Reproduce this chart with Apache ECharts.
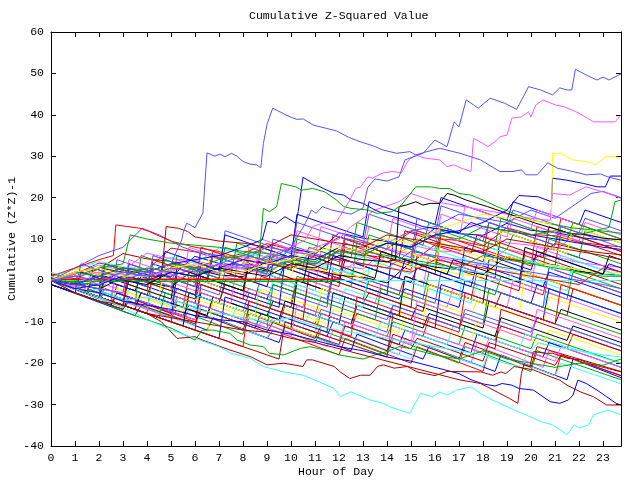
<!DOCTYPE html>
<html><head><meta charset="utf-8">
<script src="https://cdn.jsdelivr.net/npm/echarts@6/dist/echarts.min.js"></script>
<style>html,body{margin:0;padding:0;background:#fff}#c{width:640px;height:480px}</style>
</head><body><div id="c"></div>
<script>
const TITLE = 'Cumulative Z-Squared Value';
const X_NAME = 'Hour of Day';
const Y_NAME = 'Cumulative (Z*Z)-1';
const HOURS = [0,1,2,3,4,5,6,7,8,9,10,11,12,13,14,15,16,17,18,19,20,21,22,23,23.75];
const COL = {red:'#ff0000', green:'#00a800', blue:'#0000ff', magenta:'#ff55ff', cyan:'#33ffff',
             darkred:'#b00000', yellow:'#ffff00', black:'#000000', lblue:'#5555ff'};

// hourly bulk lines
const bulkHourly = [
 [0,1.5,4.2,3.1,2.5,7.8,6.9,5.2,6.5,8.9,7.4,6.8,10.5,9.1,7.6,11.8,10.2,9.6,8.3,12.7,11.1,10.8,9.2,8.5,8.1],
 [0.5,-0.8,-1.2,2.6,1.4,0.9,5.8,4.1,3.6,2.2,7.9,6.3,11.5,10.2,9.4,8.1,12.6,11.3,10.9,13.8,12.1,11.6,10.4,9.7,9.9],
 [0,-1.3,1.8,0.6,-0.2,3.9,2.4,1.8,5.7,4.1,3.6,2.2,1.5,5.8,4.3,8.6,7.2,6.8,10.7,9.1,8.5,7.3,11.6,10.2,9.8],
 [1.6,0.4,2.8,6.5,5.2,4.6,3.1,2.7,1.4,5.9,4.2,3.8,7.4,6.1,5.5,4.2,8.6,7.3,6.8,5.1,4.6,8.9,7.4,6.6,6.2],
 [0,-0.8,-2.1,0.7,-0.4,-1.6,2.8,1.3,0.9,4.7,3.3,2.6,1.2,0.8,-0.6,4.5,3.2,2.6,1.4,5.8,4.3,3.7,2.2,1.5,1.2],
 [0.8,2.7,4.6,3.2,2.8,5.6,4.1,7.8,6.3,5.7,4.4,3.8,2.2,1.7,5.9,4.4,3.6,2.5,1.8,0.6,4.8,3.4,2.7,1.4,1.1],
 [0,1.6,3.7,2.4,6.6,5.2,4.8,3.3,2.7,1.4,5.8,4.3,3.6,2.8,7.7,6.3,5.8,4.4,3.5,7.6,6.2,5.7,4.3,3.6,3.2],
 [0,2.8,1.6,0.8,-0.3,3.7,2.4,6.6,5.2,4.7,3.3,2.7,1.6,0.8,4.7,3.4,2.8,1.5,0.9,5.8,4.4,3.6,2.5,1.8,1.9]
];
const bulkHourlyColors = ['red','blue','magenta','darkred','black','cyan','magenta','yellow'];

// sawtooth bulk lines: [hour, value]
const sawUpper = [
 [[0,0],[1.5,-3],[1.75,2],[4,-2.5],[4.25,5],[6.5,0.5],[6.75,7],[9,2.5],[9.25,9],[12,3.5],[12.25,10],[15,4.5],[15.25,12],[18,6.5],[18.25,14],[21,8.5],[21.25,15],[23.75,10]],
 [[0,1],[2,-3],[2.25,3],[5,-2.5],[5.25,6],[7.5,1.5],[7.75,9],[10.5,3.5],[10.75,8],[13,3.5],[13.25,11],[16,5.5],[16.25,13],[19,7.5],[19.25,11],[22,5.5],[22.25,12],[23.75,9]],
 [[0,-1],[1,-3],[1.25,2],[3.5,-2.5],[3.75,1],[6,-3.5],[6.25,4],[9,-1.5],[9.25,4],[11.5,-0.5],[11.75,6],[14.5,0.5],[14.75,5],[17,0.5],[17.25,8],[20,2.5],[20.25,7],[23,1.5],[23.25,4],[23.75,3]],
 [[0,0],[2.5,-4],[2.75,3],[5,-1.5],[5.25,5],[8,-0.5],[8.25,8],[10,4.5],[10.25,12],[13,6.5],[13.25,13],[16,7.5],[16.25,16],[19,10.5],[19.25,15],[22,9.5],[22.25,14],[23.75,11]],
 [[0,2],[1.5,-1],[1.75,4],[4,-0.5],[4.25,6],[7,0.5],[7.25,5],[9.5,0.5],[9.75,7],[12.5,1.5],[12.75,6],[15,1.5],[15.25,9],[18,3.5],[18.25,8],[21,2.5],[21.25,6],[23.75,1]],
 [[0,0],[3,-6],[3.25,1],[6,-4.5],[6.25,4],[8.5,-0.5],[8.75,8],[11.5,2.5],[11.75,11],[14.5,5.5],[14.75,12],[17.5,6.5],[17.75,11],[20.5,5.5],[20.75,13],[23.75,7]],
 [[0,1],[1.5,-2],[1.75,2],[4.5,-3.5],[4.75,3],[7,-1.5],[7.25,6],[10,0.5],[10.25,7],[13,1.5],[13.25,10],[16,4.5],[16.25,9],[18.5,4.5],[18.75,12],[21.5,6.5],[21.75,13],[23.75,9]],
 [[0,0],[2,-4],[2.25,1],[5,-4.5],[5.25,3],[8,-2.5],[8.25,4],[10.5,-0.5],[10.75,6],[13.5,0.5],[13.75,7],[16.5,1.5],[16.75,5],[19.5,-0.5],[19.75,8],[23,1.5],[23.25,6],[23.75,5]],
 [[0,0],[1,-2],[1.25,4],[4,-1.5],[4.25,6],[7,0.5],[7.25,12],[10,6.5],[10.25,14],[13,8.5],[13.25,16],[16,10.5],[16.25,18],[19,12.5],[19.25,17],[22,11.5],[22.25,15],[23.75,12]],
 [[0,0],[2,-2],[2.25,4],[4.5,-0.5],[4.75,7],[7,2.5],[7.25,11],[10,5.5],[10.25,16],[13,10.5],[13.25,19],[16,13.5],[16.25,20],[19,14.5],[19.25,19],[22,13.5],[22.25,17],[23.75,14]],
 [[0,0],[3,-3],[3.25,5],[5.5,0.5],[5.75,8],[8.5,2.5],[8.75,10],[11,5.5],[11.25,13],[14,7.5],[14.25,15],[17,9.5],[17.25,18],[20,12.5],[20.25,17],[23.75,10]],
 [[0,0],[2,-1],[2.25,4],[4.5,-0.5],[4.75,5],[7,0.5],[7.25,8],[10,2.5],[10.25,10],[12.5,5.5],[12.75,14],[15.5,8.5],[15.75,14],[18.5,8.5],[18.75,15],[21.5,9.5],[21.75,14],[23.75,10]],
 [[0,0],[3,-3],[3.25,4],[6,-1.5],[6.25,7],[9,1.5],[9.25,10],[12,4.5],[12.25,11],[15,5.5],[15.25,15],[18,9.5],[18.25,14],[21,8.5],[21.25,13],[23.75,8]]
];
const sawUpperColors = ['red','green','blue','magenta','cyan','darkred','yellow','black','lblue','blue','magenta','green','lblue'];

const sawMiddle = [
 [[0,-1],[2.5,-6],[2.75,-1],[5.5,-6.5],[5.75,1],[8.5,-4.5],[8.75,1],[11.5,-4.5],[11.75,2],[14.5,-3.5],[14.75,1],[17.5,-4.5],[17.75,2],[20.5,-3.5],[20.75,3],[23.75,-3]],
 [[0,0],[1.5,-3],[1.75,1],[4.5,-4.5],[4.75,-1],[7,-5.5],[7.25,0],[10,-5.5],[10.25,1],[13,-4.5],[13.25,0],[15.5,-4.5],[15.75,2],[18.5,-3.5],[18.75,1],[21.5,-4.5],[21.75,2],[23.75,-2]],
 [[0,1],[3,-5],[3.25,0],[6,-5.5],[6.25,1],[9,-4.5],[9.25,-1],[11.5,-5.5],[11.75,1],[14.5,-4.5],[14.75,-2],[17,-6.5],[17.25,0],[20,-5.5],[20.25,-1],[23.75,-8]],
 [[0,0],[2,-4],[2.25,-1],[5,-6.5],[5.25,1],[8,-4.5],[8.25,-2],[10.5,-6.5],[10.75,0],[13.5,-5.5],[13.75,-1],[16.5,-6.5],[16.75,-2],[19,-6.5],[19.25,0],[23.75,-9]],
 [[0,-1],[3,-7],[3.25,-2],[6,-7.5],[6.25,-1],[9,-6.5],[9.25,0],[12,-5.5],[12.25,-2],[14.5,-6.5],[14.75,0],[17.5,-5.5],[17.75,-1],[20.5,-6.5],[20.75,-2],[23.75,-8]],
 [[0,0],[1,-2],[1.25,2],[4,-3.5],[4.25,0],[7,-5.5],[7.25,-1],[10,-6.5],[10.25,0],[13,-5.5],[13.25,-3],[15.5,-7.5],[15.75,-1],[18.5,-6.5],[18.75,-3],[21.5,-8.5],[21.75,-2],[23.75,-6]],
 [[0,0],[2.5,-5],[2.75,-2],[5.5,-7.5],[5.75,-3],[8.5,-8.5],[8.75,-2],[11.5,-7.5],[11.75,-4],[14.5,-9.5],[14.75,-3],[17.5,-8.5],[17.75,-5],[20.5,-10.5],[20.75,-4],[23.75,-10]],
 [[0,-1],[3,-7],[3.25,-4],[6,-9.5],[6.25,-3],[9,-8.5],[9.25,-5],[12,-10.5],[12.25,-4],[15,-9.5],[15.25,-6],[18,-11.5],[18.25,-5],[21,-10.5],[21.25,-7],[23.75,-12]],
 [[0,0],[2,-4],[2.25,-2],[5,-7.5],[5.25,-4],[8,-9.5],[8.25,-5],[11,-10.5],[11.25,-7],[14,-12.5],[14.25,-6],[17,-11.5],[17.25,-8],[20,-13.5],[20.25,-9],[23.75,-16]],
 [[0,1],[3.5,-6],[3.75,-3],[6.5,-8.5],[6.75,-5],[9.5,-10.5],[9.75,-6],[12.5,-11.5],[12.75,-8],[15.5,-13.5],[15.75,-9],[18.5,-14.5],[18.75,-11],[21.5,-16.5],[21.75,-13],[23.75,-17]],
 [[0,0],[2,-4],[2.25,-3],[5,-8.5],[5.25,-5],[8,-10.5],[8.25,-7],[11,-12.5],[11.25,-8],[14,-13.5],[14.25,-10],[17,-15.5],[17.25,-11],[20,-16.5],[20.25,-13],[23.75,-20]],
 [[0,-1],[2.5,-6],[2.75,-3],[5.5,-8.5],[5.75,-6],[8.5,-11.5],[8.75,-8],[11.5,-13.5],[11.75,-10],[14.5,-15.5],[14.75,-12],[17.5,-17.5],[17.75,-13],[20.5,-18.5],[20.75,-15],[23.75,-21]],
 [[0,0],[3,-6],[3.25,-4],[6,-9.5],[6.25,-6],[9,-11.5],[9.25,-9],[12,-14.5],[12.25,-10],[15,-15.5],[15.25,-12],[18,-17.5],[18.25,-14],[21,-19.5],[21.25,-16],[23.75,-21]],
 [[0,0],[1.5,-3],[1.75,-2],[4.5,-7.5],[4.75,-4],[7.5,-9.5],[7.75,-6],[10.5,-11.5],[10.75,-8],[13.5,-13.5],[13.75,-10],[16.5,-15.5],[16.75,-11],[19.5,-16.5],[19.75,-13],[23.75,-20]],
 [[0,-1],[3,-7],[3.25,-5],[6,-10.5],[6.25,-7],[9,-12.5],[9.25,-10],[12,-15.5],[12.25,-11],[15,-16.5],[15.25,-14],[18,-19.5],[18.25,-15],[21,-20.5],[21.25,-18],[23.75,-23]],
 [[0,0],[2.5,-5],[2.75,-2],[5.5,-7.5],[5.75,-4],[8.5,-9.5],[8.75,-5],[11.5,-10.5],[11.75,-7],[14.5,-12.5],[14.75,-9],[17.5,-14.5],[17.75,-10],[20.5,-15.5],[20.75,-12],[23.75,-18]],
 [[0,0],[3.5,-7],[3.75,-3],[6.5,-8.5],[6.75,-4],[9.5,-9.5],[9.75,-5],[12.5,-10.5],[12.75,-6],[15.5,-11.5],[15.75,-8],[18.5,-13.5],[18.75,-9],[21.5,-14.5],[21.75,-11],[23.75,-15]],
 [[0,0],[2,-4],[2.25,0],[5,-5.5],[5.25,-2],[8,-7.5],[8.25,-3],[11,-8.5],[11.25,-4],[14,-9.5],[14.25,-6],[17,-11.5],[17.25,-7],[20,-12.5],[20.25,-9],[23.75,-16]]
];
const sawMiddleColors = ['red','green','blue','magenta','cyan','darkred','yellow','black','lblue','red','green','blue','magenta','cyan','darkred','yellow','black','lblue'];

const sawJumpy = [
 [[0,0],[4,-8],[4.25,3],[8,-4.5],[8.25,6],[12,-1.5],[12.25,9],[16,1.5],[16.25,11],[20,3.5],[20.25,13],[23.75,6]],
 [[0,0],[5,-10],[5.25,2],[9.5,-6.5],[9.75,5],[14,-3.5],[14.25,9],[18.5,0.5],[18.75,12],[23.75,2]],
 [[0,1],[3.5,-6],[3.75,6],[8,-2.5],[8.25,7],[12.5,-1.5],[12.75,9],[16,2.5],[16.25,12],[20.5,3.5],[20.75,10],[23.75,4]],
 [[0,0],[6,-12],[6.25,-1],[10.5,-9.5],[10.75,2],[15,-6.5],[15.25,6],[19.5,-2.5],[19.75,7],[23.75,-1]],
 [[0,0],[3,-6],[3.25,3],[7.5,-5.5],[7.75,4],[11,-2.5],[11.25,7],[15.5,-1.5],[15.75,6],[20,-2.5],[20.25,8],[23.75,1]],
 [[0,0],[5.5,-11],[5.75,-3],[10,-11.5],[10.25,0],[14.5,-8.5],[14.75,1],[18,-5.5],[18.25,5],[23.75,-6]],
 [[0,1],[4,-7],[4.25,0],[8.5,-8.5],[8.75,2],[13,-6.5],[13.25,3],[17,-4.5],[17.25,6],[21.5,-2.5],[21.75,5],[23.75,1]],
 [[0,0],[6.5,-13],[6.75,-5],[11,-13.5],[11.25,-2],[15.5,-10.5],[15.75,-1],[19.5,-8.5],[19.75,2],[23.75,-6]],
 [[0,0],[7,-14],[7.25,-4],[11.5,-12.5],[11.75,-3],[16,-11.5],[16.25,-1],[20.5,-9.5],[20.75,-2],[23.75,-8]],
 [[0,0],[8,-16],[8.25,-5],[12.5,-13.5],[12.75,-4],[17,-12.5],[17.25,-3],[21,-10.5],[21.25,-1],[23.75,-6]],
 [[0,0],[4.5,-9],[4.75,-3],[9,-11.5],[9.25,-1],[13.5,-9.5],[13.75,-2],[18,-10.5],[18.25,-2],[23.75,-13]],
 [[0,0],[2.5,-5],[2.75,5],[7,-3.5],[7.25,2],[11.5,-6.5],[11.75,3],[16,-5.5],[16.25,2],[20.5,-6.5],[20.75,3],[23.75,-3]],
 [[0,0],[9.5,-19],[9.75,-10],[14,-18.5],[14.25,-8],[18.5,-16.5],[18.75,-7],[23.75,-17]],
 [[0,1],[5,-9],[5.25,-4],[10,-13.5],[10.25,-6],[15,-15.5],[15.25,-5],[20,-14.5],[20.25,-7],[23.75,-14]],
 [[0,0],[3,-6],[3.25,4],[6,-1.5],[6.25,8],[9,2.5],[9.25,6],[12,0.5],[12.25,8],[15,2.5],[15.25,10],[18,4.5],[18.25,9],[21,3.5],[21.25,12],[23.75,7]],
 [[0,0],[1.5,-3],[1.75,3],[4,-1.5],[4.25,4],[6.5,-0.5],[6.75,6],[9.5,0.5],[9.75,4],[12,-0.5],[12.25,5],[15,-0.5],[15.25,3],[17.5,-1.5],[17.75,4],[20.5,-1.5],[20.75,2],[23.75,-4]]
];
const sawJumpyColors = ['red','blue','green','darkred','magenta','black','cyan','yellow','blue','red','green','lblue','darkred','magenta','red','blue'];

const sawLower = [
 [[0,0],[3,-6.5],[3.25,-4],[6,-10],[6.25,-8],[9,-14],[9.25,-12],[12,-18],[12.25,-14],[15,-20],[15.25,-16],[18,-22],[18.25,-17],[21,-23],[21.25,-18],[23.75,-23]],
 [[0,0],[2,-4.5],[2.25,-3],[5,-9],[5.25,-7],[8,-13],[8.25,-9],[11,-15],[11.25,-12],[14,-18],[14.25,-14],[17,-20],[17.25,-16],[20,-22],[20.25,-17],[23.75,-24]],
 [[0,-1],[3.5,-8.5],[3.75,-6],[6.5,-12],[6.75,-9],[9.5,-15],[9.75,-11],[12.5,-17],[12.75,-13],[15.5,-19],[15.75,-16],[18.5,-22],[18.75,-18],[21.5,-24],[21.75,-19],[23.75,-23.5]],
 [[0,0],[2.5,-5.5],[2.75,-4],[5.5,-10],[5.75,-7],[8.5,-13],[8.75,-10],[11.5,-16],[11.75,-12],[14.5,-18],[14.75,-14],[17.5,-20],[17.75,-15],[20.5,-21],[20.75,-17],[23.75,-23]],
 [[0,0],[3,-6.5],[3.25,-5],[6,-11],[6.25,-8],[9,-14],[9.25,-10],[12,-16],[12.25,-13],[15,-19],[15.25,-15],[18,-21],[18.25,-17],[21,-23],[21.25,-20],[23.75,-25]],
 [[0,0],[2,-4],[2.25,-2],[5,-8],[5.25,-6],[8,-12],[8.25,-8],[11,-14],[11.25,-11],[14,-17],[14.25,-13],[17,-19],[17.25,-15],[20,-21],[20.25,-16],[23.75,-22]]
];
const sawLowerColors = ['red','green','blue','magenta','cyan','darkred'];

// flat lines at zero
const zeroLeft = [0,0,0,0,0,0,0,0,0,0,0,0,0];
const zeroRight = [0,0,0,0,0,0,0,0,0,0,0,0,0];

// traced prominent lines: [hour, value]
const L1 = [[0,0],[1,-1],[2,1],[3,0],[4,2],[5,4],[5.45,9.8],[5.5,11.4],[5.65,13.8],[5.8,13.4],[6,12.7],[6.24,15.3],[6.33,16.3],[6.5,30.8],[6.83,30.0],[7.04,30.5],[7.25,29.9],[7.53,30.7],[7.74,30.0],[8.01,28.7],[8.29,28.1],[8.57,27.9],[8.74,27.2],[8.85,33.1],[9.01,37.9],[9.24,41.6],[9.54,40.7],[9.96,39.5],[10.24,38.9],[10.51,39.0],[10.93,37.5],[11.49,36.7],[11.9,36.1],[12.39,34.6],[12.88,33.5],[13.42,32.5],[13.83,31.5],[14.4,30.7],[14.95,31.1],[15.2,30.3],[15.6,31.0],[16.2,31.9],[17.04,30.7],[17.9,29.1],[18.7,26.3],[19.25,26.3],[19.6,26.7],[19.8,25.5],[20.25,25.5],[20.7,28.4],[21.1,27.1],[21.75,26.3],[22.3,25.5],[22.9,25.7],[23.2,25.0],[23.75,24.2]];
const L2 = [[0,0],[1,1],[2,0],[3,2],[4,1],[5,3],[6,2],[7,4],[8,6],[9,5],[10,8],[10.6,13.8],[10.85,17],[11.05,16.2],[11.3,17.8],[11.7,17],[12,16.6],[12.5,16],[13,17.5],[13.2,22.5],[13.5,24.5],[14,24],[14.5,25],[14.75,29.1],[15.5,30.7],[16,33.9],[16.5,32.3],[16.8,38.3],[17,37.1],[17.3,43.6],[17.8,41.6],[18.3,44],[18.9,42.8],[19.4,41.3],[19.9,46.8],[20.4,46],[20.9,44.8],[21.2,46.5],[21.5,46],[21.7,46],[21.85,51],[22.3,49.6],[22.75,48.4],[23,49.1],[23.25,48.4],[23.75,49.9]];
const L3 = [[0,0],[1,1],[2,-1],[3,2],[4,1],[5,3],[6,2],[7,4],[8,3],[9,6],[10,8],[10.6,9.8],[10.9,13],[11.3,13.8],[11.9,14.2],[12.45,19.4],[12.7,22.2],[12.9,22.6],[13.2,25],[13.4,24.7],[13.8,25.9],[14.2,26.3],[14.6,26],[14.9,29.1],[15.2,30.3],[15.6,29.5],[16.2,29.1],[16.5,27.5],[16.8,27.9],[17.1,27.1],[17.5,26.3],[17.6,34.3],[18,33.1],[18.2,32.3],[18.5,33.5],[18.7,34.7],[19,35.1],[19.2,39.2],[19.6,39.5],[19.9,40.7],[20,39.5],[20.2,42.4],[20.5,43.6],[21,42.4],[21.4,41.9],[22,40.4],[22.6,38.3],[23,38.3],[23.5,38.3],[23.75,39.9]];
const L5 = [[0,0],[1,2],[2,3],[3,1],[4,1],[5,3],[6,4],[7,2],[8,2],[9,4],[10,5],[11,7],[12,8],[13,7],[14,10],[15,9],[16,12],[17,14],[18,16],[19,15],[19.5,15.5],[20,14.5],[20.5,14],[20.85,13.8],[20.9,30.7],[21.25,30.7],[21.75,29.1],[22.3,28.7],[22.7,27.9],[23.1,29.9],[23.5,29.9],[23.75,29.5]];
const L6 = [[0,0],[1,-2],[2,-1],[3,1],[4,0],[5,2],[6,1],[7,3],[8,5],[9,4],[10,6],[11,5],[12,8],[13,7],[14,9],[15,8],[16,11],[17,12],[18,14],[19,17],[19.5,20.5],[20.3,20.2],[20.85,19],[20.9,24.7],[21.5,24.2],[22.2,23.4],[22.75,22.6],[23.1,22.6],[23.3,25.2],[23.75,25.2]];
const L7 = [[0,0],[1,1],[2,-1],[3,1],[4,3],[5,2],[6,1],[7,4],[8,3],[9,2],[10,5],[11,4],[12,7],[13,6],[14,9],[15,8],[16,11],[17,10],[18,13],[19,12],[20,11],[21,12],[22,11],[23,12.5],[23.25,12.8],[23.5,19],[23.75,19.4]];
const L8 = [[0,0],[1,2],[2,1],[3,3],[4,2],[5,4],[6,3],[7,5],[8,6],[8.7,7.3],[8.85,17.4],[9.1,16.6],[9.4,17.8],[9.6,23.4],[10.2,22.6],[10.45,21.8],[10.9,22.2],[11.4,21.4],[11.9,19.4],[12.2,17.8],[12.5,17.4],[13.2,17],[13.6,16.2],[14.2,16.6],[14.6,18.2],[15.2,22.6],[15.8,22.6],[16.2,22.2],[16.6,22.2],[17,21],[17.5,20.6],[18,19.4],[18.6,17.8],[19.1,16.6],[19.6,15.4],[20,14.6],[20.7,13.8],[21.8,12.6],[22.6,12.2],[23.75,11.4]];
const L10 = [[0,0],[1,-1],[2,1],[3,3],[4,2],[5,4],[6,5],[7,6],[8,8],[8.8,9.8],[9.0,14.2],[9.2,14.2],[9.4,13.8],[9.75,15.4],[10.2,13.8],[10.3,16.6],[10.5,24.9],[10.95,23.4],[11.35,22.2],[11.8,21],[12.2,20.6],[12.5,19.4],[13,18.6],[13.5,17],[14,15.8],[14.5,15],[15,14],[15.5,13],[16,12.5],[17,11.5],[17.5,14],[18,13],[19,12],[20,11],[21,10],[22,9],[23,8],[23.75,7.5]];
const L12 = [[0,0],[1,-1],[2,1],[3,0],[4,-1],[5,2],[6,1],[7,3],[8,2],[9,1],[10,4],[11,3],[12,6],[13,5],[14,4.5],[14.35,5],[14.5,17.8],[14.8,18.2],[15.2,19],[15.5,18.2],[15.8,18.6],[16.2,18.6],[16.5,21],[16.8,20.6],[17.3,19.4],[18.2,17.8],[18.8,16.6],[19.6,15],[20.2,13.8],[20.9,12.6],[21.6,11.4],[22.3,11],[23,10.2],[23.75,9.8]];
const L13 = [[0,0],[1,-2],[2,-4],[3,-6.5],[4,-9.5],[5,-12],[6,-14],[7,-16],[7.5,-17.6],[8.3,-18.8],[8.85,-20.8],[9.1,-21.2],[9.7,-22.1],[10.5,-22.9],[11,-24.1],[11.8,-26.1],[12.05,-28.1],[12.5,-26.9],[13.3,-28.9],[13.85,-29.7],[14.1,-30.5],[14.5,-31.3],[14.95,-32.1],[15.4,-27.3],[15.9,-28.1],[16.2,-26.9],[16.5,-27.7],[16.9,-26.5],[17.5,-25.7],[17.9,-27.3],[18.4,-28.9],[19.3,-31.3],[19.8,-32.5],[20.4,-34.1],[20.9,-34.9],[21.5,-37.3],[21.8,-34.9],[22.0,-35.7],[22.4,-34.9],[22.6,-32.5],[23.2,-31.3],[23.75,-32.5]];
const L14 = [[0,0],[1,-2],[2,-4],[3,-6],[4,-8],[4.6,-10],[5.25,-14],[6,-13.6],[6.3,-14.4],[7.45,-16.8],[8.3,-18.4],[9,-20.4],[9.7,-20],[10.5,-20.8],[10.65,-19.2],[10.9,-19.2],[11.8,-20.8],[12.05,-22.1],[12.45,-23.7],[12.9,-22.9],[13.3,-22.9],[13.6,-20.8],[13.85,-20.4],[14.3,-21.2],[14.85,-20.8],[15.25,-22.1],[16,-23],[16.5,-22],[17.9,-22.1],[18.4,-22.9],[18.75,-22.1],[18.95,-22.5],[19.3,-20.8],[20.1,-21.6],[20.65,-22.9],[21.2,-24.1],[21.5,-25.3],[22.05,-26.9],[22.6,-28.1],[23.15,-30.1],[23.75,-30.1]];
const L15 = [[0,0],[1,-3],[2,-5],[3,-6],[4,-8],[5,-9],[6,-10],[7,-11],[8,-12],[9,-12.5],[10,-14],[11,-15],[12,-16.5],[13,-18],[14,-19.5],[15,-21],[16,-22.5],[17,-24],[17.9,-24.9],[18.3,-26.1],[18.7,-27.3],[19.1,-28.5],[19.45,-29.7],[19.6,-22.5],[19.7,-20.4],[19.95,-20.8],[20.1,-17.2],[20.65,-17.6],[20.9,-17.6],[21.5,-18.8],[22.05,-19.2],[22.6,-20.4],[23.15,-21.2],[23.75,-22.1]];
const L16 = [[0,0],[1,-2],[2,-3],[3,-5],[4,-6],[5,-7],[6,-8.5],[7,-9.5],[8,-10],[9,-12],[10,-13],[11,-14.5],[12,-16],[13,-17],[14,-18.5],[15,-19.5],[16,-21],[17,-22.5],[17.5,-24],[18,-25],[18.5,-25.5],[18.8,-24.9],[19.2,-25.3],[19.5,-26.1],[20.1,-26.5],[20.4,-27.7],[20.8,-29.3],[21.2,-29.7],[21.55,-28.9],[21.75,-27.7],[21.95,-24.1],[22.3,-24.9],[22.75,-26.5],[23.15,-28.1],[23.55,-29.7],[23.75,-30.1]];
const L17 = [[0,0],[1,-3],[2,-5],[3,-7.5],[4,-9.5],[5,-11.5],[6,-14.4],[6.3,-12],[6.75,-12],[7.45,-12.8],[7.75,-14.4],[8.3,-15.6],[8.85,-16],[9.1,-17.6],[9.7,-18],[10.4,-16.4],[10.8,-16],[11.5,-17],[12,-18],[12.5,-18.5],[13,-19],[13.5,-18],[14,-17.2],[14.5,-16],[15,-16.5],[16,-18],[17,-19],[18,-17],[19,-19],[20,-20],[21,-21],[22,-20],[23,-20.5],[23.75,-19]];
const L19 = [[0,0],[2,2],[4,1],[6,4],[8,3],[10,6],[11,8],[12,10],[12.5,13],[13,15],[13.5,17],[14,18],[14.5,19],[15,21],[15.5,20],[16,19],[17,18],[18,17],[19,16],[20,15],[20.8,14.5],[20.9,21],[21.6,20.6],[22.3,22.6],[23.2,21],[23.75,19.8]];
const L20 = [[0,0],[1,-1],[2,1],[3,0],[4,2],[5,1],[6,3],[7,2],[8,4],[9,3],[10,5],[11,4],[12,7],[13,6],[14,9],[15,12],[16,13],[17,16],[18,15],[19,14],[20,17],[20.5,16],[21,15],[21.5,17],[22,19],[22.5,21],[23,21.5],[23.75,20]];
const L21 = [[0,0],[1,3],[2,6],[3,8],[3.8,12.6],[4.5,11],[5,9.5],[5.5,8],[6,7],[7,6],[8,5],[9,8],[10,7],[11,6],[12,5],[13,4],[14,3],[15,7],[16,6],[17,5],[18,4],[19,3],[20,2],[21,1],[22,0],[23,-1],[23.75,-2]];
const L22 = [[0,1],[1,3],[2,5],[2.6,6],[2.7,13.4],[3.2,13],[3.7,12.6],[4.1,11.8],[4.4,11],[5,9.5],[6,8],[7,7],[8,5],[9,4],[10,3],[11,6],[12,5],[13,4],[14,3],[15,2],[16,5],[17,4],[18,3],[19,2],[20,1],[21,0],[22,-1],[23,3],[23.75,2]];
const L23 = [[0,0],[1,2],[2,3],[3,2],[4,1],[4.6,1],[4.8,13],[5.3,12.6],[5.7,11.8],[6,10.5],[7,9.5],[8,9],[9,8],[10,11],[11,10],[12,9],[13,8],[14,11],[15,10],[16,9],[17,8],[18,7],[19,10],[20,9],[21,8],[22,7],[23,6],[23.75,5]];
const L24 = [[0,0],[1,1],[2,3],[3,4],[3.3,11],[4,10],[5,9],[6,8.5],[7,8],[8,7],[9,6.5],[10,5.5],[11,4.5],[12,8],[13,7],[14,6],[15,5],[16,4],[17,3],[18,6],[19,5],[20,4],[21,3],[22,2],[23,1],[23.75,1]];
const L25 = [[0,0],[1,-2],[2,-3],[3,-5],[4,-4],[5,-6],[6,-7],[7,-8],[8,-9],[9,-10],[10,-9],[11,-11],[12,-12],[13,-13],[14,-14],[15,-15],[16,-16],[17,-17],[18,-18],[18.9,-20],[19.5,-20.8],[19.9,-17.6],[20.3,-15.1],[21,-16],[22,-17],[23,-18],[23.75,-18.5]];

const traced = [
 [L21,'lblue'],[L22,'red'],[L23,'darkred'],[L24,'green'],[L25,'cyan'],
 [L17,'green'],[L16,'blue'],[L15,'darkred'],[L14,'darkred'],[L13,'cyan'],
 [L20,'lblue'],[L19,'magenta'],[L12,'black'],[L10,'blue'],[L8,'green'],
 [L7,'green'],[L6,'blue'],[L5,'yellow'],[L3,'magenta'],[L2,'lblue'],[L1,'lblue']
];

const series = [];
function add(data, color, width) {
  series.push({type:'line', data, showSymbol:false, symbol:'none', silent:true, animation:false,
    lineStyle:{width: width || 1, color}, itemStyle:{color}});
}
sawLower.forEach((d,i)=>add(d, COL[sawLowerColors[i]]));
sawMiddle.forEach((d,i)=>add(d, COL[sawMiddleColors[i]]));
sawJumpy.forEach((d,i)=>add(d, COL[sawJumpyColors[i]]));
bulkHourly.forEach((v,i)=>add(v.map((y,j)=>[HOURS[j], y]), COL[bulkHourlyColors[i]]));
sawUpper.forEach((d,i)=>add(d, COL[sawUpperColors[i]]));
add(zeroLeft.map((v,j)=>[HOURS[j], v+0.25]), COL.red, 1.5);
add(zeroLeft.map((v,j)=>[HOURS[j], v-0.2]), COL.green, 1.5);
add(zeroRight.map((v,j)=>[HOURS[j+12], v]), COL.cyan, 1);
traced.forEach(([d,c])=>add(d, COL[c]));

const FONT = "'Liberation Mono', 'DejaVu Sans Mono', monospace";
const FS = 11.5;
const line = {show:true, onZero:false, lineStyle:{color:'#000', width:1}};
const tick = {show:true, inside:true, length:5, lineStyle:{color:'#000', width:1}};
const chart = echarts.init(document.getElementById('c'), null, {renderer:'canvas'});
chart.setOption({
  animation:false,
  backgroundColor:'#fff',
  title:{text:TITLE, left:244, top:5, textStyle:{fontFamily:FONT, fontSize:FS, fontWeight:'normal', color:'#000'}},
  grid:{left:51, right:19, top:32, bottom:34, containLabel:false, outerBoundsMode:'none'},
  xAxis:[
    {type:'value', min:0, max:23.75, interval:1, position:'bottom', name:X_NAME, nameLocation:'middle', nameGap:20, nameMoveOverlap:false,
     nameTextStyle:{fontFamily:FONT, fontSize:FS, color:'#000'},
     axisLine:line, axisTick:tick, splitLine:{show:false},
     axisLabel:{fontFamily:FONT, fontSize:FS, color:'#000', margin:6, formatter:v=>Number.isInteger(v)?String(v):''}},
    {type:'value', min:0, max:23.75, interval:1, position:'top', axisLine:line, axisTick:tick, splitLine:{show:false}, axisLabel:{show:false}}
  ],
  yAxis:[
    {type:'value', min:-40, max:60, interval:10, position:'left', name:Y_NAME, nameLocation:'middle', nameRotate:90, nameGap:33, nameMoveOverlap:false,
     nameTextStyle:{fontFamily:FONT, fontSize:FS, color:'#000'},
     axisLine:line, axisTick:tick, splitLine:{show:false},
     axisLabel:{fontFamily:FONT, fontSize:FS, color:'#000', margin:7}},
    {type:'value', min:-40, max:60, interval:10, position:'right', axisLine:line, axisTick:tick, splitLine:{show:false}, axisLabel:{show:false}}
  ],
  series
});
</script></body></html>
